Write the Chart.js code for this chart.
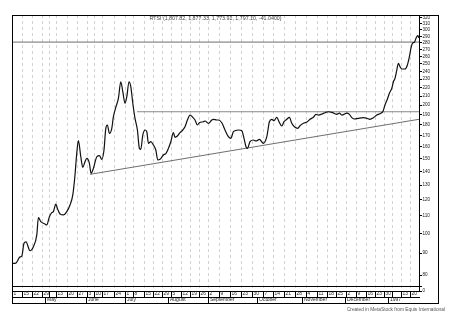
<!DOCTYPE html>
<html>
<head>
<meta charset="utf-8">
<script src="https://cdn.jsdelivr.net/npm/chart.js@4.4.1/dist/chart.umd.min.js"></script>
<style>
  html, body { margin: 0; padding: 0; background: #fff; }
  canvas { display: block; }
</style>
</head>
<body>
<canvas id="rtsi-chart" width="465" height="315"></canvas>
<script>
// x is a trading-day index (0 = left edge, week of 8 Apr 1996), y is the RTSI level
var tradingDays = [0.4, 1.9, 4, 4.9, 6, 7, 9, 10.7, 12.4, 13.2,
  14.4, 16.5, 17.4, 18.7, 19.9, 20.7, 21.9, 22.7, 24, 25.7,
  27.4, 29, 30.4, 31.5, 32.3, 33.2, 34.4, 35.4, 36.5, 37.4,
  38.7, 39.5, 40.7, 42.4, 43.7, 44.9, 46, 46.9, 47.7, 48.7,
  49.9, 50.7, 52, 53.2, 54.4, 55.4, 56.5, 57.4, 58.5, 59.4,
  60.4, 61.5, 62.7, 63.7, 64.4, 65.4, 66.5, 67.4, 68.2, 69.4,
  70.7, 71.9, 72.9, 74, 75.7, 77, 78.2, 79.4, 80.7, 81.5,
  82.7, 84, 85.4, 86.5, 87.7, 89, 90.4, 91.5, 92.7, 93.7,
  95.7, 96.5, 98.2, 99.9, 100.7, 102.4, 103.2, 104.9, 106.5, 108.2,
  109.4, 110.7, 113.2, 114.9, 116, 117, 117.7, 119, 120.7, 122,
  123.7, 125.7, 127.4, 128.7, 129.9, 131, 132.4, 133.5, 134.9, 136,
  137.4, 138.7, 139.9, 141.2, 142.9, 144, 145.7, 147.7, 149, 150.7,
  152, 153.2, 154.9, 156.5, 158.2, 159.9, 161, 162.4, 163.7, 164.9,
  166, 167.4, 168.7, 169.9, 171, 173.2, 175.7, 177.4, 179, 180.7,
  182.4, 184.4, 185.4, 186.5, 187.7, 188.7, 189.9, 190.7, 191.5, 192.4,
  193.2, 194, 194.9, 196.5, 197.7, 198.7, 199.5, 200.2, 201.2, 202,
  202.9, 203.5];

var rtsiClose = [85.2, 85.3, 88.2, 88.6, 94.9, 95.7, 91.2, 93.2, 99.3, 109.0,
  106.7, 105.3, 104.8, 109.6, 112.0, 112.6, 117.3, 114.6, 111.2, 110.6,
  112.6, 116.7, 123.2, 137.2, 152.8, 165.1, 151.4, 143.0, 147.4, 150.1,
  146.1, 138.5, 142.2, 151.4, 152.3, 149.3, 157.0, 176.5, 179.7, 171.8,
  176.5, 187.9, 198.3, 207.5, 226.9, 215.0, 202.0, 209.3, 226.9, 220.9,
  202.0, 186.3, 174.9, 158.4, 157.6, 170.2, 174.9, 173.3, 162.8, 164.2,
  161.3, 157.0, 148.8, 149.3, 152.8, 154.2, 158.4, 164.2, 172.4, 168.1,
  169.3, 172.4, 174.9, 178.0, 184.6, 189.6, 187.3, 184.6, 179.7, 181.9,
  182.9, 183.6, 181.3, 184.6, 185.3, 184.6, 184.6, 181.9, 174.9, 168.7,
  167.2, 173.3, 174.9, 174.2, 167.2, 159.8, 158.4, 164.2, 165.7, 164.8,
  166.3, 162.8, 168.7, 182.9, 185.3, 183.9, 187.3, 182.9, 178.7, 182.9,
  185.3, 187.3, 181.3, 178.0, 176.5, 178.9, 181.3, 182.9, 185.3, 187.3,
  190.3, 189.6, 190.6, 192.0, 193.0, 192.4, 191.5, 190.3, 191.5, 189.6,
  190.3, 191.5, 190.3, 186.9, 185.6, 186.3, 186.9, 186.3, 185.3, 186.9,
  189.6, 191.5, 193.0, 200.1, 206.7, 213.2, 219.0, 226.9, 231.1, 241.7,
  250.6, 246.1, 243.0, 243.0, 248.3, 259.7, 272.2, 279.2, 280.7, 286.8,
  291.1, 287.2];

// drawn-in study lines
var topLineDays = [0, 203.5];
var topLineLevel = [281, 281];
var rangeLineDays = [62.5, 203.5];
var rangeLineLevel = [193, 193];
var trendLineDays = [39, 203.5];
var trendLineLevel = [137.7, 185.3];

// week separators and their day labels
var weekTicks = [0, 5, 10, 15, 18.5, 22, 27.5, 32.5, 37.5, 41, 45, 51,
  56.5, 60.5, 66, 70.5, 75, 79.5, 84.5, 89, 93.5, 98, 103.5, 109, 114.5, 120,
  125.5, 130.5, 136, 141.5, 147, 152.5, 157.5, 162, 167, 172, 177, 181.5, 186,
  190, 194.5, 199];
var weekLabels = ['1', '15', '22', '29', '', '13', '20', '27', '3', '10', '17', '24',
  '1', '8', '15', '22', '29', '5', '12', '19', '26', '2', '9', '16', '23', '30',
  '7', '14', '21', '28', '4', '11', '18', '25', '2', '9', '16', '23', '30',
  '', '13', '20'];

var monthTicks = [0, 16.5, 37, 56.5, 78, 98, 122.5, 145, 166.5, 188];
var monthLabels = ['', 'May', 'June', 'July', 'August', 'September', 'October',
  'November', 'December', '1997'];

var priceTicks = [80, 90, 100, 110, 120, 130, 140, 150, 160, 170, 180, 190, 200,
  210, 220, 230, 240, 250, 260, 270, 280, 290, 300, 310, 320];

var dayMin = 0;
var dayMax = 203.5;
var FONT = "'Liberation Sans', Arial, sans-serif";

function toPoints(xs, ys) {
  return xs.map(function (x, i) { return { x: x, y: ys[i] }; });
}

// outer box round plot, axis rows and price labels
var frame = {
  id: 'frame',
  afterDraw: function (chart) {
    var a = chart.chartArea;
    var bottom = chart.scales.xMonth.bottom;
    var ctx = chart.ctx;
    ctx.save();
    ctx.strokeStyle = '#000';
    ctx.lineWidth = 1;
    ctx.strokeRect(Math.round(a.left) + 0.5, Math.round(a.top) + 0.5,
      Math.round(a.right + 19 - a.left), Math.round(bottom - a.top));
    ctx.restore();
  }
};

Chart.defaults.font.family = FONT;

var config = {
  type: 'line',
  data: {
    datasets: [
      {
        label: 'RTSI',
        data: toPoints(tradingDays, rtsiClose),
        borderColor: '#111',
        borderWidth: 1.2,
        pointRadius: 0,
        cubicInterpolationMode: 'monotone'
      },
      {
        label: 'top',
        data: toPoints(topLineDays, topLineLevel),
        borderColor: '#6e6e6e',
        borderWidth: 1,
        pointRadius: 0
      },
      {
        label: 'range',
        data: toPoints(rangeLineDays, rangeLineLevel),
        borderColor: '#8a8a8a',
        borderWidth: 1,
        pointRadius: 0
      },
      {
        label: 'trend',
        data: toPoints(trendLineDays, trendLineLevel),
        borderColor: '#6e6e6e',
        borderWidth: 1,
        pointRadius: 0
      }
    ]
  },
  options: {
    responsive: false,
    animation: false,
    devicePixelRatio: 1,
    layout: { padding: { left: 12, right: 20, top: 0, bottom: 0 } },
    plugins: {
      legend: { display: false },
      tooltip: { enabled: false },
      title: {
        display: true,
        text: 'RTSI (1,807.82, 1,877.33, 1,773.92, 1,797.10, -41.0400)',
        fullSize: false,
        color: '#444',
        font: { size: 5.3, weight: 'normal', lineHeight: 1.2 },
        padding: { top: 15.3, bottom: -6.66 }
      },
      subtitle: {
        display: true,
        text: 'Created in MetaStock from Equis International',
        position: 'bottom',
        align: 'end',
        color: '#555',
        font: { size: 4.8, lineHeight: 1.2 },
        padding: { top: 4.1, bottom: 2.14 }
      }
    },
    scales: {
      x: {
        type: 'linear',
        position: 'bottom',
        weight: 0,
        min: dayMin,
        max: dayMax,
        afterBuildTicks: function (scale) {
          scale.ticks = weekTicks.map(function (v) { return { value: v }; });
        },
        afterFit: function (scale) { scale.height = 6; },
        ticks: {
          autoSkip: false,
          maxRotation: 0,
          minRotation: 0,
          align: 'start',
          labelOffset: 1.5,
          padding: -6,
          color: '#222',
          font: { size: 4.8, lineHeight: 1 },
          callback: function (value, index) { return weekLabels[index]; }
        },
        grid: {
          color: '#d2d2d2',
          lineWidth: 1,
          tickLength: 6,
          tickColor: '#000',
          tickWidth: 1
        },
        border: { display: true, color: '#000', width: 1, dash: [3, 3] }
      },
      xMonth: {
        type: 'linear',
        position: 'bottom',
        weight: 1,
        min: dayMin,
        max: dayMax,
        afterBuildTicks: function (scale) {
          scale.ticks = monthTicks.map(function (v) { return { value: v }; });
        },
        afterFit: function (scale) { scale.height = 6; },
        ticks: {
          autoSkip: false,
          maxRotation: 0,
          minRotation: 0,
          align: 'start',
          labelOffset: 2,
          padding: -6,
          color: '#222',
          font: { size: 5, lineHeight: 1 },
          callback: function (value, index) { return monthLabels[index]; }
        },
        grid: {
          drawOnChartArea: false,
          tickLength: 6,
          tickColor: '#000',
          tickWidth: 1
        },
        border: { display: true, color: '#000', width: 1 }
      },
      y: {
        type: 'logarithmic',
        position: 'right',
        stack: 'price',
        stackWeight: 271,
        min: 75.4,
        max: 325.2,
        afterBuildTicks: function (scale) {
          scale.ticks = priceTicks.map(function (v) { return { value: v }; });
        },
        afterFit: function (scale) { scale.width = 26; },
        ticks: {
          autoSkip: false,
          padding: 0.5,
          color: '#222',
          font: { size: 4.6, lineHeight: 1.2 },
          callback: function (value) { return String(value); }
        },
        grid: {
          drawOnChartArea: false,
          tickLength: 3,
          tickColor: '#000'
        },
        border: { display: true, color: '#000', width: 1 }
      },
      yLower: {
        type: 'linear',
        position: 'right',
        stack: 'price',
        stackWeight: 5,
        min: 0,
        max: 1,
        afterBuildTicks: function (scale) {
          scale.ticks = [{ value: 0 }, { value: 1 }];
        },
        afterFit: function (scale) { scale.width = 26; },
        ticks: {
          autoSkip: false,
          padding: 0.5,
          color: '#222',
          font: { size: 4.6, lineHeight: 1.2 },
          callback: function (value) { return value === 0 ? '0' : ''; }
        },
        grid: {
          color: '#000',
          lineWidth: 1,
          tickLength: 3,
          tickColor: '#000'
        },
        border: { display: true, color: '#000', width: 1 }
      }
    }
  },
  plugins: [frame]
};

var ctx = document.getElementById('rtsi-chart').getContext('2d');
new Chart(ctx, config);
</script>
</body>
</html>
